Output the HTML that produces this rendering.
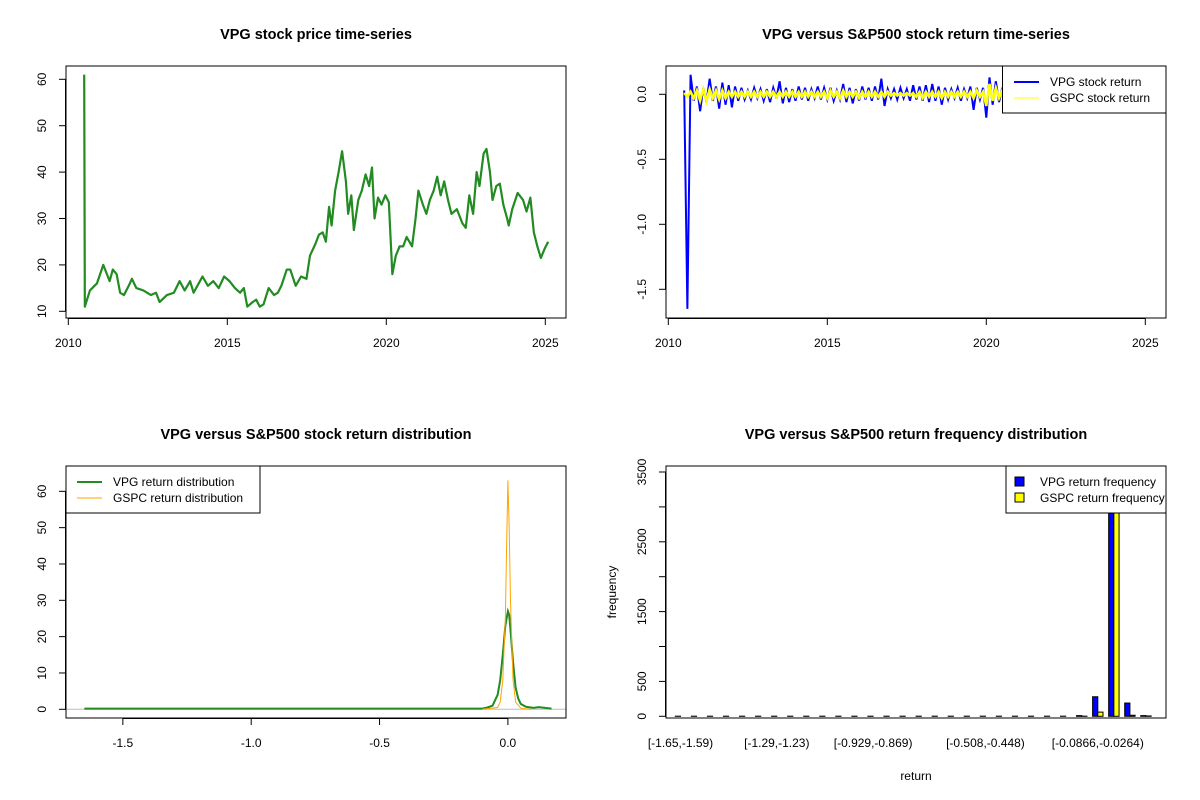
<!DOCTYPE html>
<html><head><meta charset="utf-8"><title>VPG charts</title>
<style>
html,body{margin:0;padding:0;background:#fff;}
svg{display:block;font-family:"Liberation Sans",Arial,sans-serif;}
</style></head>
<body>
<svg id="c" width="1200" height="800" viewBox="0 0 1200 800"></svg>
<script>
// ---------- Panel 1: price ----------
const priceDates=[2010.50,2010.52,2010.68,2010.9,2011.1,2011.3,2011.4,2011.52,2011.63,2011.75,2011.9,2012.0,2012.14,2012.36,2012.6,2012.76,2012.87,2013.1,2013.32,2013.5,2013.66,2013.83,2013.94,2014.1,2014.22,2014.39,2014.56,2014.73,2014.9,2015.07,2015.24,2015.4,2015.52,2015.63,2015.8,2015.91,2016.02,2016.14,2016.3,2016.47,2016.59,2016.7,2016.87,2016.98,2017.15,2017.32,2017.49,2017.6,2017.77,2017.88,2018.0,2018.1,2018.2,2018.28,2018.39,2018.5,2018.61,2018.73,2018.8,2018.9,2018.98,2019.12,2019.23,2019.35,2019.46,2019.55,2019.63,2019.74,2019.85,2019.97,2020.08,2020.19,2020.3,2020.42,2020.53,2020.64,2020.81,2020.92,2021.01,2021.15,2021.26,2021.37,2021.49,2021.6,2021.71,2021.82,2021.94,2022.05,2022.22,2022.39,2022.5,2022.61,2022.73,2022.84,2022.93,2023.06,2023.15,2023.26,2023.34,2023.46,2023.57,2023.68,2023.8,2023.85,2023.96,2024.13,2024.3,2024.41,2024.53,2024.64,2024.75,2024.86,2024.98,2025.09];
const prices=[61,11,14.5,16,20,16.5,19,18,14,13.5,15.5,17,15,14.5,13.5,14,12,13.5,14,16.5,14.5,16.5,14,16,17.5,15.5,16.5,15,17.5,16.5,15,14,15,11,12,12.5,11,11.5,15,13.5,14,15.5,19,19,15.5,17.5,17,22,24.5,26.5,27,25,32.5,28.5,36,40,44.5,38,31,35,27.5,34,36,39.5,37,41,30,34.5,33,35,33.5,18,22,24,24,26,24,30,36,33,31,34,36,39,35,38,34,31,32,29,28,35,31,40,37,44,45,40,34,37,37.5,33,30,28.5,32,35.5,34,31.5,34.5,27,24,21.5,23.5,25];
const yearTicks=[2010,2015,2020,2025];
const priceTicks=[10,20,30,40,50,60];
// ---------- Panel 2: returns ----------
const retStart=2010.5, retStep=0.1;
const vpgRet=[0.03,-1.65,0.15,-0.05,0.06,
-0.13,0.05,-0.06,0.12,-0.05,0.06,-0.11,0.09,-0.08,0.07,
-0.10,0.06,-0.05,0.05,-0.04,0.03,-0.04,0.05,-0.03,0.04,
-0.05,0.04,-0.06,0.05,-0.03,0.10,-0.07,0.05,-0.06,0.04,
-0.05,0.06,-0.04,0.05,-0.05,0.04,-0.03,0.06,-0.04,0.05,
-0.04,0.05,-0.05,0.03,-0.04,0.08,-0.06,0.05,-0.07,0.04,
-0.05,0.06,-0.04,0.05,-0.05,0.06,-0.04,0.12,-0.09,0.04,
-0.03,0.04,-0.04,0.05,-0.03,0.04,-0.05,0.07,-0.04,0.06,
-0.05,0.07,-0.06,0.08,-0.05,0.06,-0.08,0.05,-0.04,0.04,
-0.03,0.05,-0.05,0.04,-0.03,0.06,-0.12,0.05,-0.04,0.05,
-0.18,0.13,-0.08,0.10,-0.06,0.05,-0.05,0.04,-0.04,0.05,
-0.04,0.04,-0.03,0.04,-0.04,0.03,-0.04,0.04,-0.03,0.04,
-0.04,0.04,-0.03,0.04,-0.04,0.03,-0.04,0.04,-0.03,0.04,
-0.04,0.04,-0.03,0.04,-0.04,0.03,-0.04,0.04,-0.03,0.04,
-0.04,0.04,-0.03,0.04,-0.04,0.03,-0.04,0.04,-0.03,0.04,-0.03];
const gspcRet=[0.01,-0.02,0.02,-0.03,0.03,
-0.05,0.04,-0.05,0.04,-0.03,0.03,-0.04,0.03,-0.03,0.02,
-0.02,0.02,-0.02,0.02,-0.02,0.02,-0.02,0.02,-0.02,0.02,
-0.02,0.02,-0.02,0.02,-0.02,0.02,-0.02,0.02,-0.02,0.02,
-0.02,0.02,-0.02,0.02,-0.02,0.02,-0.02,0.02,-0.02,0.02,
-0.03,0.03,-0.02,0.02,-0.03,0.03,-0.02,0.02,-0.02,0.02,
-0.03,0.02,-0.02,0.02,-0.02,0.02,-0.02,0.02,-0.02,0.02,
-0.01,0.01,-0.01,0.01,-0.01,0.01,-0.01,0.01,-0.02,0.02,
-0.03,0.02,-0.02,0.02,-0.02,0.02,-0.03,0.02,-0.02,0.02,
-0.02,0.02,-0.02,0.02,-0.02,0.02,-0.03,0.03,-0.02,0.02,
-0.09,0.08,-0.05,0.05,-0.03,0.03,-0.02,0.02,-0.02,0.02,
-0.02,0.02,-0.02,0.02,-0.02,0.02,-0.02,0.02,-0.02,0.02,
-0.02,0.02,-0.02,0.02,-0.02,0.02,-0.02,0.02,-0.02,0.02,
-0.02,0.02,-0.02,0.02,-0.02,0.02,-0.02,0.02,-0.02,0.02,
-0.02,0.02,-0.02,0.02,-0.02,0.02,-0.02,0.02,-0.02,0.02,-0.02];
const retTicks=[0,-0.5,-1.0,-1.5];
const retTickLabels=["0.0","-0.5","-1.0","-1.5"];
// ---------- Panel 3: density ----------
const vpgDensX=[-1.65,-0.1,-0.08,-0.06,-0.04,-0.03,-0.02,-0.01,0,0.005,0.01,0.02,0.03,0.04,0.05,0.07,0.1,0.12,0.17];
const vpgDensY=[0.2,0.2,0.5,1,4,8,15,23,27,26,22,13,6,3,1.5,0.7,0.4,0.6,0.2];
const gspcDensX=[-0.1,-0.04,-0.03,-0.02,-0.01,-0.005,0,0.005,0.01,0.02,0.03,0.05,0.09];
const gspcDensY=[0,0.5,2,8,25,45,63,50,30,8,2,0.3,0];
const densXTicks=[-1.5,-1.0,-0.5,0.0];
const densXLabels=["-1.5","-1.0","-0.5","0.0"];
const densYTicks=[0,10,20,30,40,50,60];
// ---------- Panel 4: frequency ----------
const binCount=30;
const vpgFreq=[2,2,2,2,2,2,2,2,2,2,2,2,2,2,2,2,2,2,2,2,2,2,2,2,2,10,280,3560,190,10];
const gspcFreq=[0,0,0,0,0,0,0,0,0,0,0,0,0,0,0,0,0,0,0,0,0,0,0,0,0,2,60,3560,15,5];
const binLabelIdx=[0,6,12,19,26];
const binLabels=["[-1.65,-1.59)","[-1.29,-1.23)","[-0.929,-0.869)","[-0.508,-0.448)","[-0.0866,-0.0264)"];
const freqTicks=[0,500,1000,1500,2000,2500,3000,3500];
const freqLabelShown=[true,true,false,true,false,true,false,true];

const svg=document.getElementById('c');
const NS='http://www.w3.org/2000/svg';
function mk(tag,attrs,parent){const e=document.createElementNS(NS,tag);for(const k in attrs)e.setAttribute(k,attrs[k]);(parent||svg).appendChild(e);return e;}
function txt(s,x,y,opts,parent){const t=mk('text',Object.assign({x:x,y:y,'font-size':12,'text-anchor':'middle','dominant-baseline':'central',fill:'#000'},opts||{}),parent);t.textContent=s;return t;}

function frame(ox,oy,title,name){
  const g=mk('g',{});
  
  
  const t=txt(title,ox+316,oy+35,{'font-size':14.5,'font-weight':'bold'},g);
  
  
  return g;
}
function box(g,ox,oy){const r=mk('rect',{x:ox+66,y:oy+66,width:500,height:252,fill:'none',stroke:'#000','stroke-width':1},g);
  }
function xAxis(g,oy,vals,labels,fx,name){
  const a=mk('g',{},g);
  const y0=oy+318;
  mk('line',{x1:fx(vals[0]),x2:fx(vals[vals.length-1]),y1:y0+0.5,y2:y0+0.5,stroke:'#000'},a);
  vals.forEach((v,i)=>{const x=fx(v);mk('line',{x1:x,x2:x,y1:y0,y2:y0+7,stroke:'#000'},a);txt(labels[i],x,y0+25,{},a);});
}
function yAxis(g,ox,vals,labels,fy,name,shown){
  const a=mk('g',{},g);
  const x0=ox+66;
  mk('line',{x1:x0-0.5,x2:x0-0.5,y1:fy(vals[0]),y2:fy(vals[vals.length-1]),stroke:'#000'},a);
  vals.forEach((v,i)=>{const y=fy(v);mk('line',{x1:x0-7,x2:x0,y1:y,y2:y,stroke:'#000'},a);
    if(!shown||shown[i]){const lx=ox+42;txt(labels[i],lx,y,{transform:'rotate(-90 '+lx+' '+y+')'},a);}});
}

// ===== Panel 1 =====
{
 const ox=0,oy=0;const g=frame(ox,oy,'VPG stock price time-series','price-panel');
 const fx=v=>68.3+(v-2010)*31.8;const fy=v=>oy+311.3-(v-10)*4.64;
 const pts=priceDates.map((d,i)=>fx(d)+','+fy(prices[i])).join(' ');
 const l=mk('polyline',{points:pts,fill:'none',stroke:'#228B22','stroke-width':2.2,'stroke-linejoin':'round'},g);
 
 box(g,ox,oy);
 xAxis(g,oy,yearTicks,yearTicks.map(String),fx,'x-axis');
 yAxis(g,ox,priceTicks,priceTicks.map(String),fy,'y-axis');
}
// ===== Panel 2 =====
{
 const ox=600,oy=0;const g=frame(ox,oy,'VPG versus S&P500 stock return time-series','return-panel');
 const fx=v=>ox+68.3+(v-2010)*31.8;const fy=v=>oy+94.3-v*130;
 const cp=mk('clipPath',{id:'cp2'},g);mk('rect',{x:ox+66,y:oy+66,width:500,height:252},cp);
 const p1=vpgRet.map((v,i)=>fx(retStart+i*retStep)+','+fy(v)).join(' ');
 const l1=mk('polyline',{points:p1,fill:'none',stroke:'#0000FF','stroke-width':2,'clip-path':'url(#cp2)'},g);
 
 const p2=gspcRet.map((v,i)=>fx(retStart+i*retStep)+','+fy(v)).join(' ');
 const l2=mk('polyline',{points:p2,fill:'none',stroke:'#FFFF00','stroke-width':2.5,'clip-path':'url(#cp2)'},g);
 
 box(g,ox,oy);
 xAxis(g,oy,yearTicks,yearTicks.map(String),fx,'x-axis');
 yAxis(g,ox,retTicks,retTickLabels,fy,'y-axis');
 const lg=mk('g',{},g);
 mk('rect',{x:1002.5,y:66,width:163.5,height:47,fill:'#fff',stroke:'#000'},lg);
 mk('line',{x1:1014,x2:1039,y1:82,y2:82,stroke:'#0000FF','stroke-width':2},lg);
 txt('VPG stock return',1050,82,{'text-anchor':'start'},lg);
 mk('line',{x1:1014,x2:1039,y1:98,y2:98,stroke:'#FFFF00','stroke-width':1},lg);
 txt('GSPC stock return',1050,98,{'text-anchor':'start'},lg);
}
// ===== Panel 3 =====
{
 const ox=0,oy=400;const g=frame(ox,oy,'VPG versus S&P500 stock return distribution','density-panel');
 const fx=v=>507.9+v*256.7;const fy=v=>oy+309.3-v*3.633;
 const z=mk('line',{x1:66,x2:566,y1:fy(0),y2:fy(0),stroke:'#bebebe'},g);
 
 const l1=mk('polyline',{points:vpgDensX.map((x,i)=>fx(x)+','+fy(vpgDensY[i])).join(' '),fill:'none',stroke:'#228B22','stroke-width':2},g);
 
 const l2=mk('polyline',{points:gspcDensX.map((x,i)=>fx(x)+','+fy(gspcDensY[i])).join(' '),fill:'none',stroke:'#FFA500','stroke-width':1},g);
 
 box(g,ox,oy);
 xAxis(g,oy,densXTicks,densXLabels,fx,'x-axis');
 yAxis(g,ox,densYTicks,densYTicks.map(String),fy,'y-axis');
 const lg=mk('g',{},g);
 mk('rect',{x:66,y:466,width:194,height:47,fill:'#fff',stroke:'#000'},lg);
 mk('line',{x1:77,x2:102,y1:482,y2:482,stroke:'#228B22','stroke-width':2},lg);
 txt('VPG return distribution',113,482,{'text-anchor':'start'},lg);
 mk('line',{x1:77,x2:102,y1:498,y2:498,stroke:'#FFA500','stroke-width':1},lg);
 txt('GSPC return distribution',113,498,{'text-anchor':'start'},lg);
}
// ===== Panel 4 =====
{
 const ox=600,oy=400;const g=frame(ox,oy,'VPG versus S&P500 return frequency distribution','frequency-panel');
 const fx=k=>680.5+k*16.05;const fy=v=>oy+316.3-v*0.0698;const bw=5.2;
 for(let k=0;k<binCount;k++){
  const b1=mk('rect',{x:fx(k)-bw,y:fy(vpgFreq[k]),width:bw,height:Math.max(0,fy(0)-fy(vpgFreq[k])),fill:'#0000FF',stroke:'#000','stroke-width':1},g);
  
  const b2=mk('rect',{x:fx(k),y:fy(gspcFreq[k]),width:bw,height:Math.max(0,fy(0)-fy(gspcFreq[k])),fill:'#FFFF00',stroke:'#000','stroke-width':1},g);
  
 }
 box(g,ox,oy);
 const xa=mk('g',{},g);
 binLabelIdx.forEach((k,i)=>txt(binLabels[i],fx(k),743,{},xa));
 yAxis(g,ox,freqTicks,freqTicks.map(String),fy,'y-axis',freqLabelShown);
 const xt=txt('return',916,776,{},g);
 const yt=txt('frequency',612,592,{transform:'rotate(-90 612 592)'},g);
 const lg=mk('g',{},g);
 mk('rect',{x:1006,y:466,width:160,height:47,fill:'#fff',stroke:'#000'},lg);
 mk('rect',{x:1015,y:477,width:9,height:9,fill:'#0000FF',stroke:'#000'},lg);
 txt('VPG return frequency',1040,482,{'text-anchor':'start'},lg);
 mk('rect',{x:1015,y:493,width:9,height:9,fill:'#FFFF00',stroke:'#000'},lg);
 txt('GSPC return frequency',1040,498,{'text-anchor':'start'},lg);
}
</script>
</body></html>
